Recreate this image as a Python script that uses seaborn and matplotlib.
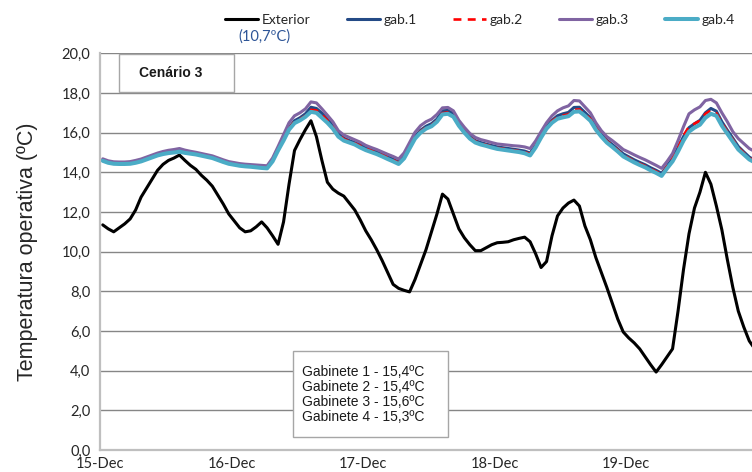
import matplotlib
matplotlib.use("Agg")
import matplotlib.pyplot as plt
import matplotlib.dates as mdates
from matplotlib.patches import Rectangle
from matplotlib.ticker import FuncFormatter, MultipleLocator
import pandas as pd
import seaborn as sns

# Hourly operative temperatures (ºC), 15-Dec to 19-Dec
start = pd.Timestamp("2010-12-15")
times = pd.date_range("2010-12-15 00:30", periods=120, freq="h")

exterior = [
    11.35, 11.15, 11.0, 11.2, 11.4, 11.65, 12.1, 12.75, 13.2, 13.65, 14.1, 14.4,
    14.6, 14.72, 14.87, 14.6, 14.35, 14.15, 13.85, 13.6, 13.3, 12.85, 12.4, 11.9,
    11.55, 11.2, 11.0, 11.05, 11.25, 11.5, 11.2, 10.8, 10.37, 11.5, 13.4, 15.1,
    15.65, 16.15, 16.6, 15.8, 14.6, 13.5, 13.15, 12.95, 12.8, 12.45, 12.1, 11.6,
    11.05, 10.6, 10.1, 9.55, 8.95, 8.35, 8.15, 8.05, 7.97, 8.6, 9.35, 10.1,
    11.0, 11.9, 12.9, 12.65, 11.9, 11.15, 10.7, 10.35, 10.05, 10.05, 10.2, 10.35,
    10.45, 10.47, 10.5, 10.6, 10.67, 10.73, 10.5, 9.9, 9.2, 9.5, 10.8, 11.8,
    12.2, 12.45, 12.6, 12.3, 11.3, 10.6, 9.7, 8.95, 8.2, 7.4, 6.6, 5.95,
    5.65, 5.4, 5.1, 4.7, 4.3, 3.93, 4.3, 4.7, 5.1, 7.0, 9.1, 10.9,
    12.2, 13.0, 14.0, 13.4, 12.3, 11.1, 9.6, 8.2, 7.0, 6.2, 5.5, 5.1,
]

gab1 = [
    14.62, 14.52, 14.47, 14.46, 14.46, 14.47, 14.52, 14.59, 14.69, 14.79, 14.89, 14.96,
    15.01, 15.05, 15.09, 15.03, 14.98, 14.94, 14.88, 14.82, 14.76, 14.66, 14.56, 14.47,
    14.42, 14.37, 14.34, 14.32, 14.29, 14.27, 14.25, 14.62, 15.17, 15.72, 16.25, 16.6,
    16.75, 16.95, 17.28, 17.22, 16.98, 16.68, 16.35, 15.95, 15.72, 15.6, 15.5, 15.38,
    15.24, 15.13, 15.03, 14.91, 14.78, 14.66, 14.52, 14.8, 15.3, 15.8, 16.12, 16.32,
    16.45, 16.68, 17.1, 17.12, 16.95, 16.48, 16.1, 15.8, 15.6, 15.5, 15.42, 15.35,
    15.28, 15.24, 15.2, 15.16, 15.12, 15.07, 14.97, 15.35, 15.85, 16.3, 16.62, 16.85,
    16.95, 17.02, 17.27, 17.28, 17.02, 16.75, 16.28, 15.92, 15.62, 15.4, 15.17, 14.93,
    14.78, 14.63, 14.5, 14.38, 14.23, 14.1, 13.95, 14.32, 14.7, 15.25, 15.8, 16.25,
    16.45, 16.62, 17.0, 17.22, 17.08, 16.55, 16.12, 15.72, 15.3, 15.03, 14.77, 14.6,
]

gab2 = [
    14.6, 14.5, 14.45, 14.44, 14.44, 14.45, 14.5, 14.57, 14.67, 14.77, 14.87, 14.94,
    14.99, 15.03, 15.07, 15.01, 14.96, 14.92, 14.86, 14.8, 14.74, 14.64, 14.54, 14.45,
    14.4, 14.35, 14.32, 14.3, 14.27, 14.25, 14.23, 14.6, 15.15, 15.7, 16.22, 16.56,
    16.68, 16.85, 17.15, 17.12, 16.9, 16.62, 16.3, 15.9, 15.68, 15.56, 15.46, 15.34,
    15.2, 15.09, 14.99, 14.87, 14.74, 14.62, 14.48, 14.76, 15.25, 15.75, 16.06, 16.26,
    16.38, 16.6, 16.98, 17.02, 16.88, 16.42, 16.06, 15.76, 15.56, 15.46, 15.38, 15.3,
    15.23, 15.19, 15.15, 15.11, 15.07, 15.02, 14.92, 15.32, 15.82, 16.27, 16.58, 16.78,
    16.86, 16.92, 17.15, 17.17, 16.93, 16.7, 16.25, 15.88, 15.58, 15.35, 15.12, 14.88,
    14.72, 14.57, 14.44, 14.32, 14.17, 14.04, 13.89, 14.3, 14.7, 15.25, 15.85, 16.3,
    16.45, 16.6, 16.95, 17.12, 16.98, 16.48, 16.05, 15.65, 15.25, 14.98, 14.72, 14.56,
]

gab3 = [
    14.68, 14.58, 14.53, 14.52, 14.52, 14.54, 14.6, 14.67, 14.77, 14.87, 14.97, 15.05,
    15.11, 15.15, 15.2, 15.12, 15.06, 15.01, 14.95, 14.89, 14.83, 14.73, 14.63, 14.54,
    14.49, 14.44, 14.41, 14.39, 14.37, 14.35, 14.33, 14.72, 15.3, 15.9, 16.5, 16.85,
    17.0, 17.2, 17.55, 17.5, 17.2, 16.88, 16.55, 16.1, 15.88, 15.76, 15.64, 15.52,
    15.36, 15.25, 15.15, 15.03, 14.91, 14.8, 14.67, 14.98, 15.5, 16.02, 16.35, 16.55,
    16.68, 16.92, 17.25, 17.27, 17.1, 16.62, 16.27, 15.96, 15.76, 15.65, 15.58, 15.5,
    15.43, 15.4, 15.37, 15.34, 15.32, 15.28, 15.2, 15.58, 16.05, 16.5, 16.85, 17.1,
    17.25, 17.35, 17.62, 17.6, 17.3, 17.0, 16.5, 16.1, 15.8, 15.6, 15.38, 15.15,
    15.02, 14.88, 14.75, 14.63, 14.49, 14.35, 14.2, 14.55, 14.95, 15.6, 16.3, 16.95,
    17.15, 17.3, 17.62, 17.68, 17.5, 17.0, 16.55, 16.05, 15.7, 15.45, 15.2, 15.05,
]

gab4 = [
    14.58, 14.48, 14.43, 14.42, 14.42, 14.43, 14.48, 14.55, 14.65, 14.75, 14.85, 14.92,
    14.97, 15.0, 15.04, 14.98, 14.94, 14.9, 14.84, 14.78, 14.72, 14.62, 14.52, 14.43,
    14.38, 14.33, 14.3, 14.28, 14.25, 14.22, 14.2, 14.55, 15.1, 15.6, 16.15, 16.48,
    16.62, 16.8, 17.05, 17.0, 16.75, 16.5, 16.2, 15.8, 15.6, 15.5, 15.4, 15.25,
    15.12, 15.02, 14.92, 14.8, 14.67, 14.55, 14.42, 14.7, 15.2, 15.7, 16.0, 16.2,
    16.32, 16.55, 16.92, 16.95, 16.8, 16.35, 16.0, 15.7, 15.5, 15.4, 15.33, 15.25,
    15.18, 15.14, 15.1, 15.06, 15.02, 14.96, 14.85, 15.25, 15.75, 16.2, 16.5, 16.7,
    16.77, 16.83, 17.05, 17.07, 16.85, 16.6, 16.15, 15.8, 15.5, 15.28, 15.05, 14.8,
    14.65, 14.5, 14.37, 14.25, 14.1, 13.97, 13.82, 14.2, 14.55, 15.05, 15.6, 16.05,
    16.25, 16.4, 16.75, 16.95, 16.85, 16.35, 15.95, 15.55, 15.15, 14.9, 14.65, 14.5,
]

series_names = ["Exterior", "gab.1", "gab.2", "gab.3", "gab.4"]
series_colors = ["#000000", "#244A86", "#FF0000", "#8064A2", "#4BACC6"]
series_widths = [2.2, 2.2, 1.9, 2.2, 2.9]
exterior_mean_label = "(10,7ºC)"
cabinet_means = [15.4, 15.4, 15.6, 15.3]
scenario = "Cenário 3"

sns.set_theme(style="white")
plt.rcParams["font.family"] = ["Liberation Sans", "DejaVu Sans"]

W, H = 752, 472
fig = plt.figure(figsize=(W / 100, H / 100), dpi=100)
ax = fig.add_axes([100 / W, 1 - 450 / H, (W - 100) / W, (450 - 53.3) / H])

for name, vals, col, lw in zip(series_names, [exterior, gab1, gab2, gab3, gab4],
                               series_colors, series_widths):
    sns.lineplot(x=times, y=vals, ax=ax, color=col, linewidth=lw,
                 label=name, legend=False)
    if name == "gab.2":
        ax.lines[-1].set_dashes([3.0, 2.4])

# axes styling
ax.set_ylim(0, 20)
ax.set_xlim(start, start + pd.Timedelta(hours=119))
ax.yaxis.set_major_locator(MultipleLocator(2))
ax.yaxis.set_major_formatter(FuncFormatter(lambda v, p: f"{v:.1f}".replace(".", ",")))
ax.xaxis.set_major_locator(mdates.DayLocator())
ax.xaxis.set_major_formatter(mdates.DateFormatter("%d-%b"))
ax.grid(axis="y", color="#868686", linewidth=1.0)
ax.grid(axis="x", visible=False)
ax.set_axisbelow(True)
for side in ["top", "right"]:
    ax.spines[side].set_visible(False)
for side in ["left", "bottom"]:
    ax.spines[side].set_color("#BFBFBF")
    ax.spines[side].set_linewidth(1.6)
ax.tick_params(axis="both", direction="out", length=4, width=1, color="#A6A6A6",
               labelsize=10.5, labelcolor="#262626", pad=3)
ax.tick_params(axis="x", pad=1)
for lab in ax.get_xticklabels() + ax.get_yticklabels():
    lab.set_family(["Lato", "DejaVu Sans"])
ax.set_xlabel("")
ax.set_ylabel("Temperatura operativa (ºC)", fontsize=15.5, color="#262626")
ax.yaxis.set_label_coords(-(100 - 38) / (W - 100), 0.5)

# legend along the top
handles = ax.lines[:5]
leg = fig.legend(handles, series_names, loc="center left",
                 bbox_to_anchor=(225 / W, 1 - 20 / H), ncol=5, frameon=False,
                 handlelength=2.4, handletextpad=0.25, columnspacing=2.6,
                 borderpad=0, borderaxespad=0,
                 prop={"family": ["Lato", "DejaVu Sans"], "size": 10})
for t in leg.get_texts():
    t.set_color("#262626")
fig.text(238 / W, 1 - 37 / H, exterior_mean_label, fontsize=10.5, color="#2E5597",
         family=["Lato", "DejaVu Sans"], va="center", ha="left")

# scenario box
fig.add_artist(Rectangle((119 / W, 1 - 92 / H), (234 - 119) / W, (92 - 54) / H,
                         transform=fig.transFigure, facecolor="white",
                         edgecolor="#A6A6A6", linewidth=1.0, zorder=5))
fig.text(171 / W, 1 - 73 / H, scenario, fontsize=10, fontweight="bold",
         ha="center", va="center", color="#1a1a1a", zorder=6)

# mean values box
fig.add_artist(Rectangle((293 / W, 1 - 437 / H), (448 - 293) / W, (437 - 351) / H,
                         transform=fig.transFigure, facecolor="white",
                         edgecolor="#A6A6A6", linewidth=1.0, zorder=5))
for k, m in enumerate(cabinet_means):
    txt = f"Gabinete {k + 1} - {m:.1f}ºC".replace(".", ",")
    fig.text(302.5 / W, 1 - (371.7 + 15 * k) / H, txt, fontsize=10,
             ha="left", va="center", color="#1a1a1a", zorder=6)

fig.savefig("out.png", dpi=100)
